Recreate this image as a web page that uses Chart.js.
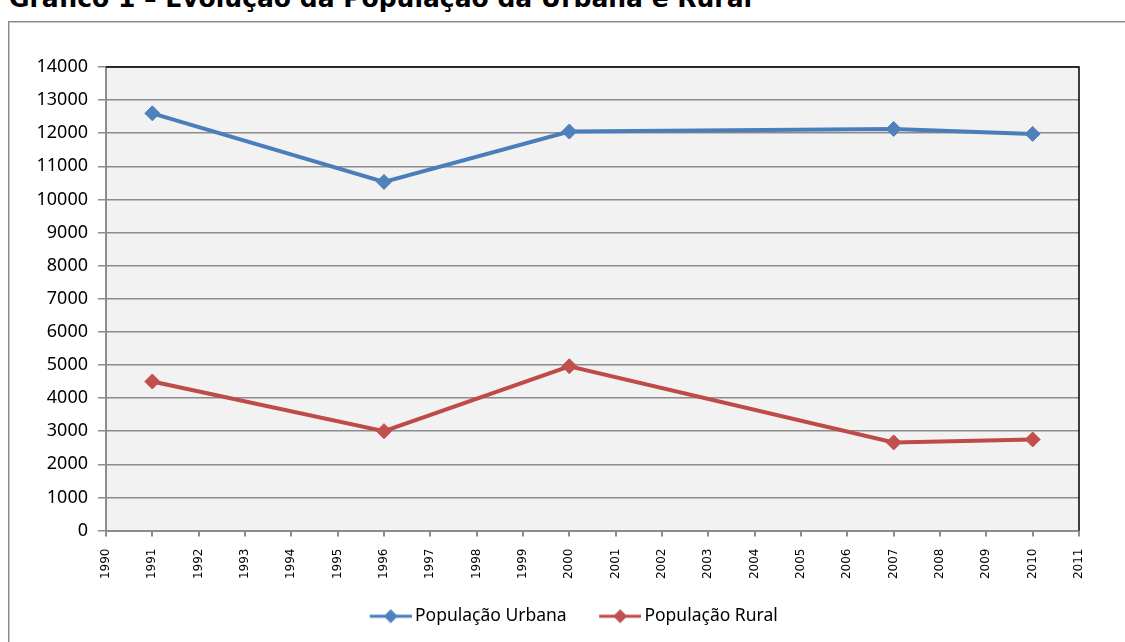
<!DOCTYPE html>
<html lang="pt">
<head>
<meta charset="utf-8">
<title>Evolução da População Urbana e Rural</title>
<script src="https://cdn.jsdelivr.net/npm/chart.js@4.4.1/dist/chart.umd.min.js"></script>
<style>
  html, body { margin: 0; padding: 0; background: #ffffff; overflow: hidden; }
  #wrap { position: relative; width: 1125px; height: 642px; }
  #titulo {
    position: absolute; left: 9px; top: -15px; margin: 0;
    font-family: "DejaVu Sans", Verdana, sans-serif; font-weight: bold;
    font-size: 25px; line-height: 28px; color: #000; white-space: nowrap;
  }
  #moldura {
    position: absolute; left: 8px; top: 21px; width: 1130px; height: 640px;
    border: 1px solid #8a8a8a; box-shadow: inset 1px 1px 0 #c8c8c8;
  }
  #grafico { position: absolute; left: 0; top: 0; }
</style>
</head>
<body>
<div id="wrap">
  <div id="titulo">Gráfico 1 – Evolução da População da Urbana e Rural</div>
  <div id="moldura"></div>
  <canvas id="grafico" width="1125" height="642"></canvas>
</div>
<script>
// Anos dos recenseamentos / contagens
const anos = [1991, 1996, 2000, 2007, 2010];
// População residente (habitantes)
const populacaoUrbana = [12600, 10530, 12050, 12130, 11980];
const populacaoRural  = [4500, 3000, 4960, 2660, 2750];
// Nomes das séries
const nomesSeries = ['População Urbana', 'População Rural'];
// Limites dos eixos
const anoInicial = 1990;
const anoFinal = 2011;
const yMax = 14000;
const yPasso = 1000;

const corUrbanaLinha = '#4a7ebb', corUrbanaPonto = '#4f81bd';
const corRuralLinha = '#be4b48', corRuralPonto = '#c0504d';

function pares(xs, ys) { return xs.map((x, i) => ({ x: x, y: ys[i] })); }

// Símbolo da legenda: segmento de linha com losango, encostado à direita
// de uma imagem mais larga (a parte transparente à esquerda dá o espaçamento entre itens)
function simboloLegenda(corLinha, corPonto) {
  const c = document.createElement('canvas');
  c.width = 70; c.height = 16;
  const g = c.getContext('2d');
  const x0 = 28;
  g.strokeStyle = corLinha; g.lineWidth = 3;
  g.beginPath(); g.moveTo(x0, 8); g.lineTo(x0 + 42, 8); g.stroke();
  g.fillStyle = corPonto;
  const cx = x0 + 21;
  g.beginPath(); g.moveTo(cx, 1); g.lineTo(cx + 7, 8); g.lineTo(cx, 15); g.lineTo(cx - 7, 8); g.closePath(); g.fill();
  return c;
}

// Fundo cinzento da área de plotagem e contorno superior/direito
const areaPlotagem = {
  id: 'areaPlotagem',
  beforeDraw(chart) {
    const a = chart.chartArea, ctx = chart.ctx;
    ctx.save();
    ctx.fillStyle = '#f2f2f2';
    ctx.fillRect(a.left, a.top, a.right - a.left, a.bottom - a.top);
    ctx.restore();
  },
  afterDatasetsDraw(chart) {
    const a = chart.chartArea, ctx = chart.ctx;
    ctx.save();
    ctx.strokeStyle = '#000000'; ctx.lineWidth = 1.5;
    ctx.beginPath();
    ctx.moveTo(a.left, a.top); ctx.lineTo(a.right, a.top); ctx.lineTo(a.right, a.bottom);
    ctx.stroke();
    ctx.restore();
  }
};

new Chart(document.getElementById('grafico'), {
  type: 'line',
  data: {
    datasets: [
      {
        label: nomesSeries[0],
        data: pares(anos, populacaoUrbana),
        borderColor: corUrbanaLinha, backgroundColor: corUrbanaPonto,
        borderWidth: 4, pointStyle: 'rectRot', pointRadius: 7.5,
        pointBackgroundColor: corUrbanaPonto, pointBorderColor: corUrbanaPonto, pointBorderWidth: 1,
        tension: 0
      },
      {
        label: nomesSeries[1],
        data: pares(anos, populacaoRural),
        borderColor: corRuralLinha, backgroundColor: corRuralPonto,
        borderWidth: 4, pointStyle: 'rectRot', pointRadius: 7.5,
        pointBackgroundColor: corRuralPonto, pointBorderColor: corRuralPonto, pointBorderWidth: 1,
        tension: 0
      }
    ]
  },
  options: {
    responsive: false,
    animation: false,
    events: [],
    layout: { padding: { left: 0, top: 67, right: 0, bottom: 7 } },
    scales: {
      x: {
        type: 'linear', min: anoInicial, max: anoFinal,
        afterFit(s) { s.height = 67; },
        ticks: {
          stepSize: 1, autoSkip: false, maxRotation: 90, minRotation: 90,
          padding: 12, color: '#000000',
          font: { family: '"DejaVu Sans", Verdana, sans-serif', size: 12 },
          callback: v => String(v)
        },
        grid: { drawOnChartArea: false, drawTicks: true, tickLength: 6, color: '#8c8c8c', lineWidth: 2 },
        border: { display: true, color: '#8c8c8c', width: 2 }
      },
      y: {
        min: 0, max: yMax,
        afterFit(s) { s.width = 106; },
        ticks: {
          stepSize: yPasso, padding: 10, color: '#000000',
          font: { family: '"Noto Sans", sans-serif', size: 18 },
          callback: v => String(v)
        },
        grid: { color: '#8c8c8c', lineWidth: 1.5, tickLength: 8 },
        border: { display: true, color: '#8c8c8c', width: 2 }
      },
      // margem à direita da área de plotagem (sem marcas)
      margemDireita: {
        type: 'linear', position: 'right', min: 0, max: yMax,
        afterFit(s) { s.width = 46; },
        ticks: { display: false },
        grid: { display: false, drawOnChartArea: false, drawTicks: false },
        border: { display: false }
      }
    },
    plugins: {
      legend: {
        position: 'bottom',
        labels: {
          usePointStyle: true, pointStyleWidth: 59, padding: 10,
          color: '#000000',
          font: { family: '"Noto Sans", sans-serif', size: 17.5 },
          generateLabels(chart) {
            return chart.data.datasets.map((d, i) => ({
              text: d.label,
              pointStyle: i === 0 ? simboloLegenda(corUrbanaLinha, corUrbanaPonto)
                                  : simboloLegenda(corRuralLinha, corRuralPonto),
              fillStyle: d.backgroundColor, strokeStyle: d.borderColor,
              lineWidth: 0, hidden: false, datasetIndex: i, fontColor: '#000000'
            }));
          }
        }
      },
      tooltip: { enabled: false }
    }
  },
  plugins: [areaPlotagem]
});
</script>
</body>
</html>
